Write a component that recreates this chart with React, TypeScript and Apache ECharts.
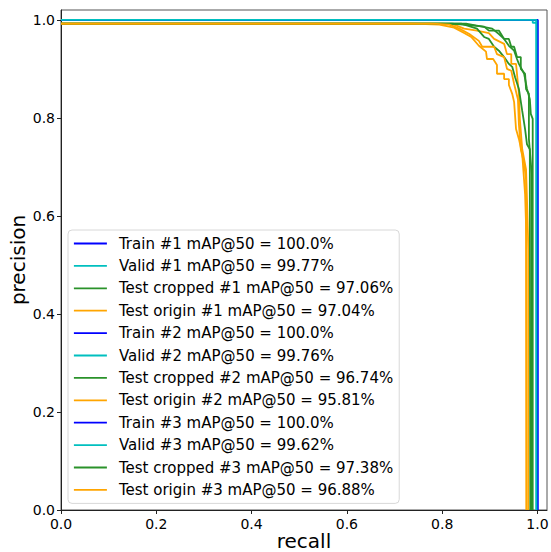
import React, { useEffect, useRef } from "react";
import * as echarts from "echarts";

// [recall, precision] pairs
const train1 = [[0, 1], [1, 1], [1, 0]];
const valid1 = [[0, 1], [0.998, 1], [0.998, 0]];
const testCropped1 = [[0, 0.992], [0.82, 0.992], [0.867, 0.988], [0.888, 0.986], [0.898, 0.978], [0.919, 0.978], [0.93, 0.961], [0.94, 0.961], [0.945, 0.945], [0.951, 0.945], [0.957, 0.924], [0.965, 0.924], [0.965, 0.9], [0.974, 0.89], [0.976, 0.859], [0.982, 0.849], [0.982, 0.757], [0.988, 0.685], [0.988, 0]];
const testOrigin1 = [[0, 0.992], [0.8, 0.992], [0.825, 0.99], [0.846, 0.982], [0.873, 0.978], [0.898, 0.973], [0.909, 0.961], [0.93, 0.951], [0.936, 0.93], [0.945, 0.93], [0.945, 0.91], [0.955, 0.91], [0.957, 0.89], [0.961, 0.849], [0.963, 0.798], [0.968, 0.736], [0.976, 0.695], [0.978, 0.634], [0.981, 0.532], [0.981, 0]];
const train2 = [[0, 1], [1, 1], [1, 0]];
const valid2 = [[0, 1], [0.99, 1], [0.99, 0.994], [0.998, 0.994], [0.998, 1], [0.998, 0]];
const testCropped2 = [[0, 0.992], [0.84, 0.992], [0.873, 0.982], [0.888, 0.965], [0.898, 0.961], [0.909, 0.945], [0.919, 0.937], [0.93, 0.924], [0.94, 0.91], [0.947, 0.904], [0.953, 0.883], [0.961, 0.859], [0.968, 0.814], [0.974, 0.777], [0.978, 0.746], [0.984, 0.736], [0.984, 0.644], [0.985, 0]];
const testOrigin2 = [[0, 0.992], [0.737, 0.992], [0.794, 0.99], [0.825, 0.984], [0.846, 0.973], [0.861, 0.965], [0.877, 0.947], [0.892, 0.935], [0.894, 0.92], [0.907, 0.92], [0.915, 0.908], [0.915, 0.89], [0.93, 0.89], [0.93, 0.879], [0.94, 0.879], [0.94, 0.867], [0.947, 0.849], [0.951, 0.832], [0.955, 0.777], [0.961, 0.757], [0.968, 0.726], [0.974, 0.644], [0.977, 0.552], [0.977, 0]];
const train3 = [[0, 1], [1, 1], [1, 0]];
const valid3 = [[0, 1], [0.998, 1], [0.998, 0]];
const testCropped3 = [[0, 0.992], [0.85, 0.992], [0.884, 0.986], [0.905, 0.982], [0.919, 0.971], [0.93, 0.961], [0.94, 0.947], [0.951, 0.937], [0.957, 0.92], [0.961, 0.91], [0.972, 0.89], [0.978, 0.859], [0.984, 0.838], [0.986, 0.808], [0.99, 0.798], [0.99, 0.7], [0.99, 0]];
const testOrigin3 = [[0, 0.992], [0.78, 0.992], [0.815, 0.99], [0.836, 0.982], [0.857, 0.971], [0.877, 0.957], [0.884, 0.945], [0.909, 0.945], [0.915, 0.93], [0.93, 0.924], [0.936, 0.9], [0.945, 0.896], [0.951, 0.869], [0.959, 0.838], [0.961, 0.787], [0.965, 0.736], [0.972, 0.706], [0.976, 0.675], [0.976, 0.573], [0.977, 0]];

const seriesNames = [
  "Train #1 mAP@50 = 100.0%",
  "Valid #1 mAP@50 = 99.77%",
  "Test cropped #1 mAP@50 = 97.06%",
  "Test origin #1 mAP@50 = 97.04%",
  "Train #2 mAP@50 = 100.0%",
  "Valid #2 mAP@50 = 99.76%",
  "Test cropped #2 mAP@50 = 96.74%",
  "Test origin #2 mAP@50 = 95.81%",
  "Train #3 mAP@50 = 100.0%",
  "Valid #3 mAP@50 = 99.62%",
  "Test cropped #3 mAP@50 = 97.38%",
  "Test origin #3 mAP@50 = 96.88%",
];
const seriesData = [
  train1, valid1, testCropped1, testOrigin1,
  train2, valid2, testCropped2, testOrigin2,
  train3, valid3, testCropped3, testOrigin3,
];
const kindColors = ["#0000ff", "#00bfbf", "#2a922a", "#ffa500"];
const tickValues = [0, 0.2, 0.4, 0.6, 0.8, 1.0];

const FONT = "DejaVu Sans";

export default function App() {
  const ref = useRef<HTMLDivElement>(null);
  useEffect(() => {
    if (!ref.current) return;
    const chart = echarts.init(ref.current, null, { renderer: "svg" });
    const axisCommon = {
      type: "value" as const,
      min: 0,
      max: 1.02,
      nameLocation: "middle" as const,
      nameMoveOverlap: false,
      nameTextStyle: { fontSize: 20, lineHeight: 20, color: "#000", fontFamily: FONT },
      splitLine: { show: false },
      axisLine: { show: true, lineStyle: { color: "#222", width: 1 } },
      axisTick: { show: true, inside: false, length: 4, customValues: tickValues, lineStyle: { color: "#222" } },
      axisLabel: {
        customValues: tickValues,
        fontSize: 14,
        color: "#000",
        fontFamily: FONT,
        formatter: (v: number) => v.toFixed(1),
      },
    };
    chart.setOption({
      animation: false,
      backgroundColor: "#fff",
      grid: {
        left: 61,
        right: 4,
        top: 10,
        bottom: 42,
        containLabel: false,
        outerBoundsMode: "none",
        show: true,
        borderColor: "#555",
        borderWidth: 1,
        backgroundColor: "transparent",
      },
      xAxis: { ...axisCommon, name: "recall", nameGap: 21, axisLabel: { ...axisCommon.axisLabel, margin: 7 } },
      yAxis: { ...axisCommon, name: "precision", nameGap: 33, axisLabel: { ...axisCommon.axisLabel, margin: 6 } },
      legend: {
        orient: "vertical",
        left: 68,
        top: 230,
        padding: [5, 6, 5, 5],
        backgroundColor: "rgba(255,255,255,0.85)",
        borderColor: "#d8d8d8",
        borderWidth: 1,
        borderRadius: 4,
        itemWidth: 33,
        itemHeight: 17,
        itemGap: 5.4,
        itemStyle: { opacity: 0, color: "transparent", borderWidth: 0 },
        lineStyle: { width: 1.8 },
        data: seriesNames,
        textStyle: { fontSize: 15, color: "#000", fontFamily: FONT, lineHeight: 17, padding: [0, 0, 0, 7] },
      },
      series: seriesNames.map((name, i) => ({
        name,
        type: "line",
        data: seriesData[i],
        symbol: "none",
        showSymbol: false,
        smooth: false,
        color: kindColors[i % 4],
        lineStyle: { color: kindColors[i % 4], width: 1.8 },
        z: 2,
      })),
    });
    return () => chart.dispose();
  }, []);
  return (
    <div
      ref={ref}
      style={{ position: "fixed", left: 0, top: 0, width: 551, height: 552 }}
    />
  );
}
